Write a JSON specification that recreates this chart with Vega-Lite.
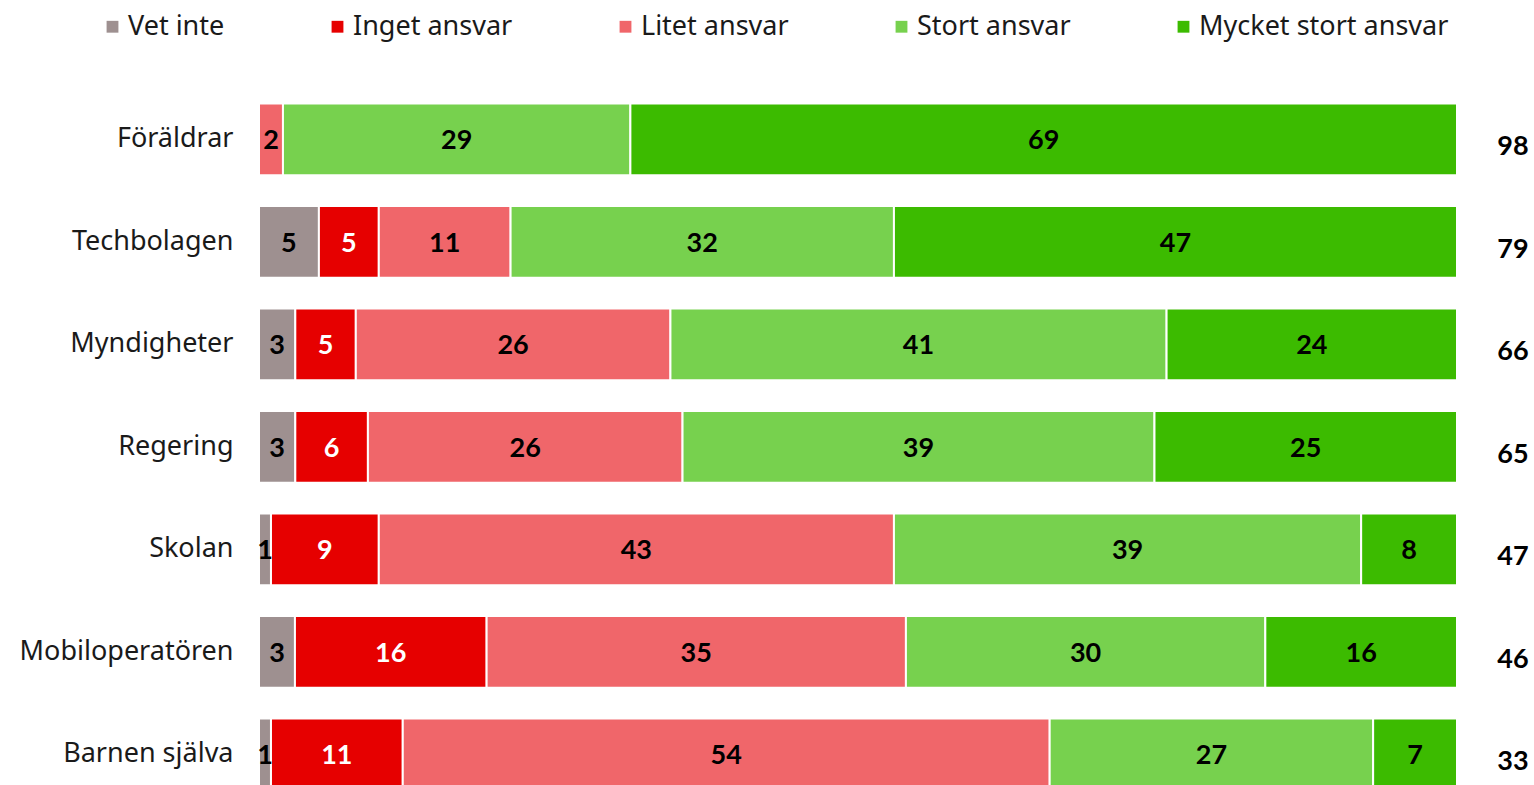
{
  "$schema": "https://vega.github.io/schema/vega-lite/v6.json",
  "autosize": "none",
  "padding": {"left": 259, "top": 88, "right": 77, "bottom": 0},
  "width": 1198,
  "height": 717.5,
  "background": "white",
  "config": {"view": {"stroke": null}, "font": "Noto Sans"},
  "datasets": {
    "segments": [
      {"grupp": "Föräldrar", "kat": "Litet ansvar", "ordning": 3, "value": 2},
      {"grupp": "Föräldrar", "kat": "Stort ansvar", "ordning": 4, "value": 29},
      {"grupp": "Föräldrar", "kat": "Mycket stort ansvar", "ordning": 5, "value": 69},
      {"grupp": "Techbolagen", "kat": "Vet inte", "ordning": 1, "value": 5},
      {"grupp": "Techbolagen", "kat": "Inget ansvar", "ordning": 2, "value": 5},
      {"grupp": "Techbolagen", "kat": "Litet ansvar", "ordning": 3, "value": 11},
      {"grupp": "Techbolagen", "kat": "Stort ansvar", "ordning": 4, "value": 32},
      {"grupp": "Techbolagen", "kat": "Mycket stort ansvar", "ordning": 5, "value": 47},
      {"grupp": "Myndigheter", "kat": "Vet inte", "ordning": 1, "value": 3},
      {"grupp": "Myndigheter", "kat": "Inget ansvar", "ordning": 2, "value": 5},
      {"grupp": "Myndigheter", "kat": "Litet ansvar", "ordning": 3, "value": 26},
      {"grupp": "Myndigheter", "kat": "Stort ansvar", "ordning": 4, "value": 41},
      {"grupp": "Myndigheter", "kat": "Mycket stort ansvar", "ordning": 5, "value": 24},
      {"grupp": "Regering", "kat": "Vet inte", "ordning": 1, "value": 3},
      {"grupp": "Regering", "kat": "Inget ansvar", "ordning": 2, "value": 6},
      {"grupp": "Regering", "kat": "Litet ansvar", "ordning": 3, "value": 26},
      {"grupp": "Regering", "kat": "Stort ansvar", "ordning": 4, "value": 39},
      {"grupp": "Regering", "kat": "Mycket stort ansvar", "ordning": 5, "value": 25},
      {"grupp": "Skolan", "kat": "Vet inte", "ordning": 1, "value": 1},
      {"grupp": "Skolan", "kat": "Inget ansvar", "ordning": 2, "value": 9},
      {"grupp": "Skolan", "kat": "Litet ansvar", "ordning": 3, "value": 43},
      {"grupp": "Skolan", "kat": "Stort ansvar", "ordning": 4, "value": 39},
      {"grupp": "Skolan", "kat": "Mycket stort ansvar", "ordning": 5, "value": 8},
      {"grupp": "Mobiloperatören", "kat": "Vet inte", "ordning": 1, "value": 3},
      {"grupp": "Mobiloperatören", "kat": "Inget ansvar", "ordning": 2, "value": 16},
      {"grupp": "Mobiloperatören", "kat": "Litet ansvar", "ordning": 3, "value": 35},
      {"grupp": "Mobiloperatören", "kat": "Stort ansvar", "ordning": 4, "value": 30},
      {"grupp": "Mobiloperatören", "kat": "Mycket stort ansvar", "ordning": 5, "value": 16},
      {"grupp": "Barnen själva", "kat": "Vet inte", "ordning": 1, "value": 1},
      {"grupp": "Barnen själva", "kat": "Inget ansvar", "ordning": 2, "value": 11},
      {"grupp": "Barnen själva", "kat": "Litet ansvar", "ordning": 3, "value": 54},
      {"grupp": "Barnen själva", "kat": "Stort ansvar", "ordning": 4, "value": 27},
      {"grupp": "Barnen själva", "kat": "Mycket stort ansvar", "ordning": 5, "value": 7}
    ],
    "totals": [
      {"grupp": "Föräldrar", "total": 98},
      {"grupp": "Techbolagen", "total": 79},
      {"grupp": "Myndigheter", "total": 66},
      {"grupp": "Regering", "total": 65},
      {"grupp": "Skolan", "total": 47},
      {"grupp": "Mobiloperatören", "total": 46},
      {"grupp": "Barnen själva", "total": 33}
    ]
  },
  "encoding": {
    "y": {
      "field": "grupp",
      "type": "nominal",
      "sort": ["Föräldrar", "Techbolagen", "Myndigheter", "Regering", "Skolan", "Mobiloperatören", "Barnen själva"],
      "scale": {"paddingInner": 0.3, "paddingOuter": 0.15},
      "axis": {
        "title": null,
        "domain": false,
        "ticks": false,
        "labelFont": "Noto Sans",
        "labelFontSize": 27,
        "labelColor": "#1a1a1a",
        "labelPadding": 26,
        "labelLimit": 400
      }
    }
  },
  "layer": [
    {
      "data": {"name": "segments"},
      "transform": [
        {"stack": "value", "groupby": ["grupp"], "sort": [{"field": "ordning"}], "offset": "normalize", "as": ["x0", "x1"]}
      ],
      "mark": {"type": "bar", "stroke": "white", "strokeWidth": 2},
      "encoding": {
        "x": {"field": "x0", "type": "quantitative", "scale": {"domain": [0, 1], "nice": false}, "axis": null},
        "x2": {"field": "x1"},
        "color": {
          "field": "kat",
          "type": "nominal",
          "scale": {
            "domain": ["Vet inte", "Inget ansvar", "Litet ansvar", "Stort ansvar", "Mycket stort ansvar"],
            "range": ["#9e9090", "#e60000", "#f0666a", "#77d14e", "#3cbb00"]
          },
          "legend": {
            "title": null,
            "orient": "none",
            "legendX": -160,
            "legendY": -75,
            "direction": "horizontal",
            "symbolType": "square",
            "symbolSize": 140,
            "symbolStrokeWidth": 0,
            "symbolOpacity": 1,
            "labelFont": "Noto Sans",
            "labelFontSize": 27,
            "labelColor": "#1a1a1a",
            "labelOffset": 2,
            "labelLimit": 400,
            "columnPadding": 99
          }
        }
      }
    },
    {
      "data": {"name": "segments"},
      "transform": [
        {"stack": "value", "groupby": ["grupp"], "sort": [{"field": "ordning"}], "offset": "normalize", "as": ["x0", "x1"]},
        {"calculate": "(datum.x0 + datum.x1) / 2", "as": "mid"}
      ],
      "mark": {"type": "text", "fontWeight": "bold", "fontSize": 27, "font": "Lato", "baseline": "middle", "align": "center", "dy": 2},
      "encoding": {
        "x": {"field": "mid", "type": "quantitative"},
        "text": {"field": "value", "type": "quantitative"},
        "color": {
          "condition": {"test": "datum.kat === 'Inget ansvar'", "value": "white"},
          "value": "black"
        }
      }
    },
    {
      "data": {"name": "totals"},
      "mark": {"type": "text", "fontWeight": "bold", "fontSize": 27, "font": "Lato", "baseline": "middle", "align": "center", "dx": 56, "dy": 8, "color": "black"},
      "encoding": {
        "x": {"datum": 1, "type": "quantitative"},
        "text": {"field": "total", "type": "quantitative"}
      }
    }
  ]
}
